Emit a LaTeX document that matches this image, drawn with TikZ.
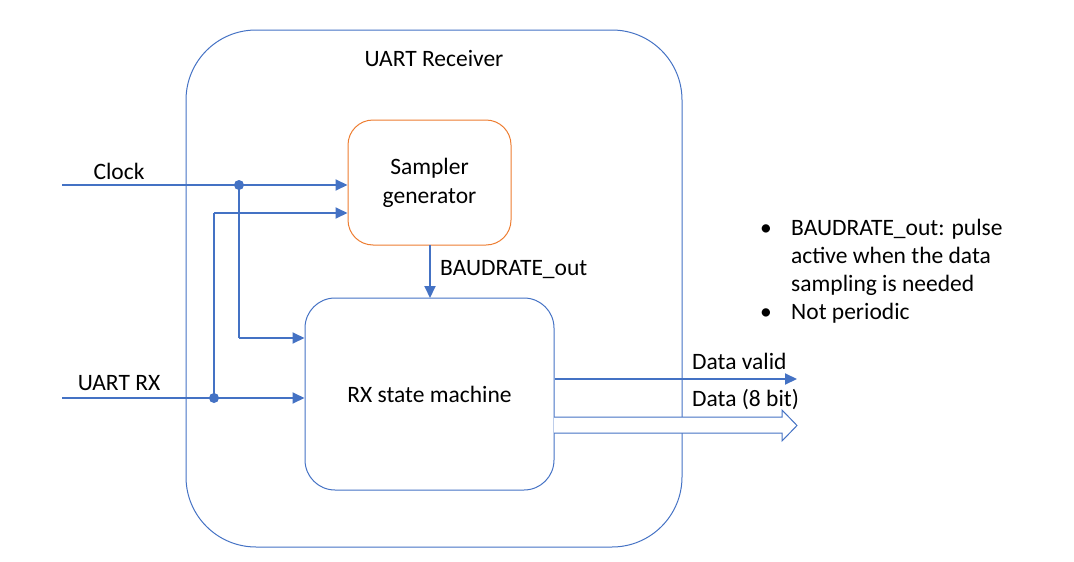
\documentclass[tikz,border=0pt]{standalone}
\usepackage{fontspec}
\setmainfont{Carlito}
\usetikzlibrary{arrows.meta}
\definecolor{bl}{HTML}{4472C4}
\definecolor{orn}{HTML}{ED7D31}
\begin{document}
\begin{tikzpicture}[x=1pt,y=-1pt,
  lbl/.style={inner sep=0pt,font=\fontsize{23.5}{29}\selectfont,text=black},
  conn/.style={draw=bl,line width=2pt,-{Triangle[length=12pt,width=11pt]}},
  wire/.style={draw=bl,line width=2pt},
  dotpt/.style={circle,fill=bl,inner sep=0pt,minimum size=10pt}]
\useasboundingbox (0,0) rectangle (1074,562);
% outer
\draw[bl,line width=1pt,rounded corners=70pt] (186,30) rectangle (682,547);
\node[lbl] (title) at (434,59) {UART Receiver};
% boxes
\node[draw=orn,line width=1pt,rounded corners=25pt,minimum width=163pt,minimum height=125pt,inner sep=0pt,
  align=center,font=\fontsize{23.5}{29}\selectfont] (sg) at (429.5,182.5) {Sampler\\generator};
\node[draw=bl,line width=1pt,rounded corners=30pt,minimum width=249pt,minimum height=192pt,inner sep=0pt,
  font=\fontsize{23.5}{29}\selectfont] (rx) at (429.5,394) {RX state machine};
% inputs
\coordinate (clkin) at (62,185);
\coordinate (rxin) at (62,398);
\node[lbl] (clkl) at (119,171) {Clock};
\node[lbl] (rxl) at (119,383) {UART RX};
\node[dotpt] (d1) at (239,185) {};
\node[dotpt] (d2) at (214,398) {};
\draw[conn] (clkin) -- (sg.west |- clkin);
\draw[wire] (d1.center) -- (239,338);
\draw[conn] (239,338) -- (rx.west |- 0,338);
\draw[conn] (rxin) -- (rx.west |- rxin);
\draw[wire] (d2.center) -- (214,213);
\draw[conn] (214,213) -- (sg.west |- 0,213);
% baud
\draw[conn] (430,245) -- (430,298);
\node[lbl,anchor=west] (baud) at (440,270) {BAUDRATE\_out};
% outputs
\coordinate (dvout) at (797,379);
\draw[conn] (rx.east |- dvout) -- (dvout);
\node[lbl,anchor=west] (dvl) at (692,361) {Data valid};
\node[lbl,anchor=west] (dl) at (692,400) {Data (8 bit)};
\draw[bl,line width=1pt,fill=white] (554,417) -- (782,417) -- (782,410) -- (797,425.5) -- (782,441) -- (782,433) -- (554,433);
% bullets
\node[lbl,anchor=base] (b1) at (766,235) {\textbullet};
\node[lbl,anchor=base] (b2) at (766,319) {\textbullet};
\node[lbl,anchor=base west] (n1) at (791,235) {BAUDRATE\_out: pulse};
\node[lbl,anchor=base west] (n2) at (791,263) {active when the data};
\node[lbl,anchor=base west] (n3) at (791,291) {sampling is needed};
\node[lbl,anchor=base west] (n4) at (791,319) {Not periodic};
\end{tikzpicture}
\end{document}
